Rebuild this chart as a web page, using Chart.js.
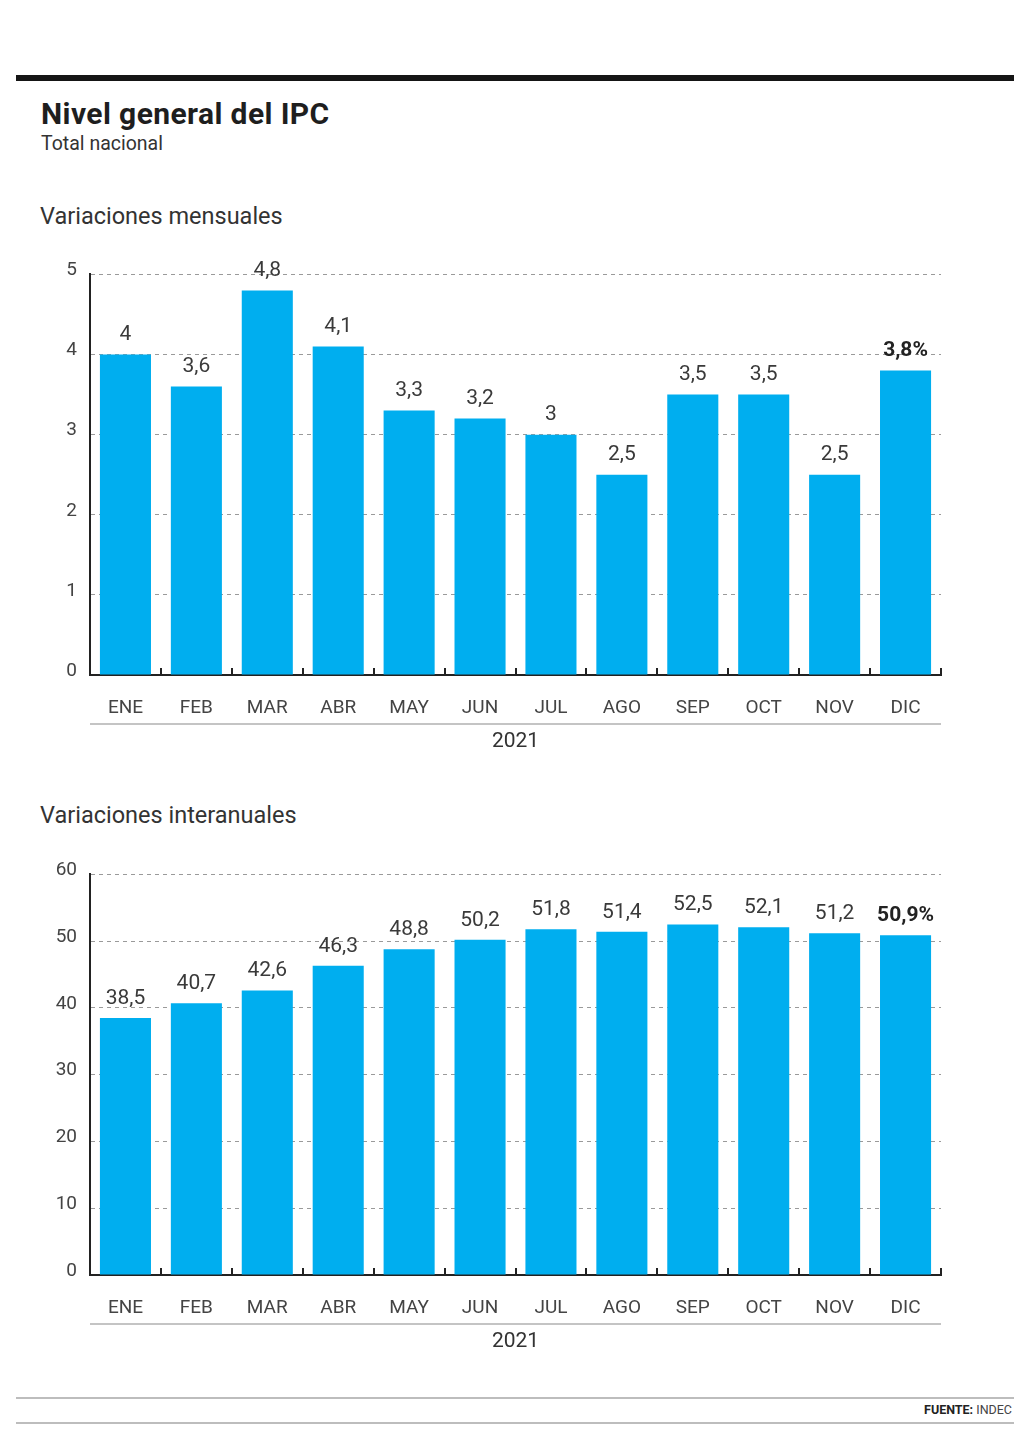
<!DOCTYPE html>
<html>
<head>
<meta charset="utf-8">
<script src="https://cdn.jsdelivr.net/npm/chart.js@4.4.1/dist/chart.umd.min.js"></script>
<style>
  body { margin: 0; background: #fff; font-family: Roboto, "Noto Sans", sans-serif; }
  #page { position: relative; width: 1024px; height: 1449px; overflow: hidden; }
  .rule { position: absolute; left: 16px; width: 998px; }
  .txt { position: absolute; white-space: nowrap; color: #333; }
  .box { position: absolute; left: 0; width: 1024px; height: 520px; }
</style>
</head>
<body>
<div id="page">
  <div class="rule" style="top:75px;height:6px;background:#151515;"></div>
  <div class="txt" style="left:41px;top:96px;font-size:30px;font-weight:700;color:#1e1e1e;letter-spacing:0.4px;">Nivel general del IPC</div>
  <div class="txt" style="left:41px;top:132px;font-size:19.5px;">Total nacional</div>
  <div class="txt" style="left:40px;top:202px;font-size:23.5px;">Variaciones mensuales</div>
  <div class="box" style="top:250px;"><canvas id="chartMensual"></canvas></div>
  <div class="txt" style="left:40px;top:801px;font-size:23.5px;">Variaciones interanuales</div>
  <div class="box" style="top:850px;"><canvas id="chartInteranual"></canvas></div>
  <div class="rule" style="top:1397px;height:2px;background:#bdbdbd;"></div>
  <div class="txt" style="right:12px;top:1402px;font-size:12.5px;color:#444;"><b style="color:#222;">FUENTE:</b> INDEC</div>
  <div class="rule" style="top:1422px;height:2px;background:#bdbdbd;"></div>
</div>
<script>
// Datos del IPC 2021 (INDEC)
const meses = ['ENE', 'FEB', 'MAR', 'ABR', 'MAY', 'JUN', 'JUL', 'AGO', 'SEP', 'OCT', 'NOV', 'DIC'];
const variacionMensual = [4, 3.6, 4.8, 4.1, 3.3, 3.2, 3, 2.5, 3.5, 3.5, 2.5, 3.8];
const variacionInteranual = [38.5, 40.7, 42.6, 46.3, 48.8, 50.2, 51.8, 51.4, 52.5, 52.1, 51.2, 50.9];
const anio = '2021';
const ticksMensual = { max: 5, step: 1 };
const ticksInteranual = { max: 60, step: 10 };

const azul = '#00aeef';

function formatear(v) {
  return String(v).replace('.', ',');
}

// Etiquetas de valor, marcas del eje x, linea gris y el año
const decoraciones = {
  id: 'decoraciones',
  afterDatasetsDraw(chart) {
    const { ctx, chartArea } = chart;
    const meta = chart.getDatasetMeta(0);
    const data = chart.data.datasets[0].data;
    ctx.save();
    ctx.textAlign = 'center';
    ctx.textBaseline = 'bottom';
    meta.data.forEach((bar, i) => {
      const ultimo = i === data.length - 1;
      ctx.font = (ultimo ? '700 ' : '400 ') + '21px Roboto, sans-serif';
      ctx.fillStyle = ultimo ? '#222' : '#3a3a3a';
      const texto = formatear(data[i]) + (ultimo ? '%' : '');
      ctx.fillText(texto, bar.x, bar.y - 9);
    });

    // marcas en los limites de cada mes
    const ancho = (chartArea.right - chartArea.left) / data.length;
    ctx.strokeStyle = '#222';
    ctx.lineWidth = 2;
    for (let i = 1; i <= data.length; i++) {
      const x = Math.round(chartArea.left + ancho * i);
      ctx.beginPath();
      ctx.moveTo(x, chartArea.bottom);
      ctx.lineTo(x, chartArea.bottom - 7);
      ctx.stroke();
    }

    // linea gris y año
    ctx.strokeStyle = '#c4c4c4';
    ctx.lineWidth = 2;
    ctx.beginPath();
    ctx.moveTo(chartArea.left, chartArea.bottom + 49);
    ctx.lineTo(chartArea.right, chartArea.bottom + 49);
    ctx.stroke();
    ctx.fillStyle = '#333';
    ctx.font = '400 21px Roboto, sans-serif';
    ctx.textBaseline = 'middle';
    ctx.fillText(anio, (chartArea.left + chartArea.right) / 2, chartArea.bottom + 67);
    ctx.restore();
  }
};

function crearGrafico(id, valores, escala) {
  return new Chart(document.getElementById(id), {
    type: 'bar',
    data: {
      labels: meses,
      datasets: [{
        data: valores,
        backgroundColor: azul,
        categoryPercentage: 1,
        barPercentage: 0.72
      }]
    },
    options: {
      responsive: true,
      maintainAspectRatio: false,
      animation: false,
      layout: { padding: { top: 24, right: 83, left: 0, bottom: 0 } },
      plugins: { legend: { display: false }, tooltip: { enabled: false } },
      scales: {
        x: {
          grid: { display: false },
          border: { color: '#222', width: 2 },
          ticks: { color: '#444', font: { size: 19, family: 'Roboto' }, padding: 14 },
          afterFit(scale) { scale.height = 95; }
        },
        y: {
          min: 0,
          max: escala.max,
          ticks: {
            stepSize: escala.step,
            color: '#444',
            font: { size: 19, family: 'Roboto' },
            padding: 13,
            labelOffset: -4
          },
          grid: {
            drawTicks: false,
            color: (c) => c.tick && c.tick.value === 0 ? 'rgba(0,0,0,0)' : '#9a9a9a',
            lineWidth: 1
          },
          // en v4 border.dash punte las lineas de la rejilla
          border: { color: '#222', width: 2, dash: [4, 4] },
          afterFit(scale) { scale.width = 90; }
        }
      }
    },
    plugins: [decoraciones]
  });
}

Chart.defaults.font.family = 'Roboto, sans-serif';

crearGrafico('chartMensual', variacionMensual, ticksMensual);
crearGrafico('chartInteranual', variacionInteranual, ticksInteranual);
</script>
</body>
</html>
